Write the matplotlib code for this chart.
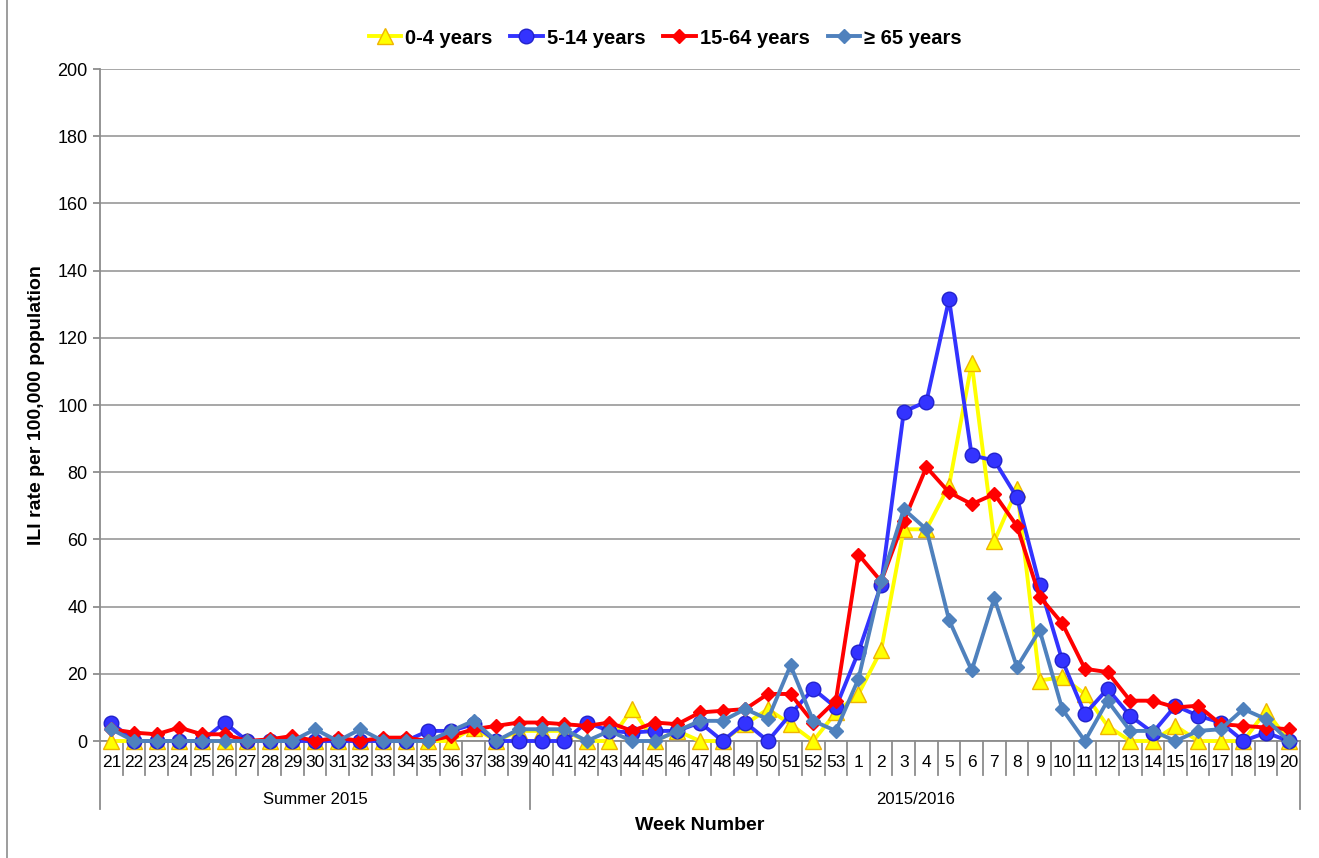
import matplotlib.pyplot as plt
from matplotlib.lines import Line2D
from matplotlib.transforms import blended_transform_factory

# week labels: summer season then the 2015/2016 season
weeks_summer = list(range(21, 40))
weeks_season = list(range(40, 54)) + list(range(1, 21))
group_names = ['Summer 2015', '2015/2016']

age_0_4 = [0, 0, 0, 0, 0, 0, 0, 0, 0, 0, 0, 0, 0, 0, 0, 0, 4, 0, 3,
           3, 3, 0, 0, 9.5, 0, 3, 0, 0, 5, 9.5, 5, 0, 8.5,
           14, 27, 63, 63, 76, 112.5, 59.5, 75, 18, 19, 14, 4.5,
           0, 0, 4.5, 0, 0, 0, 9, 0]
age_5_14 = [5.5, 0, 0, 0, 0, 5.5, 0, 0, 0, 0, 0, 0, 0, 0, 3, 3, 5, 0, 0,
            0, 0, 5.5, 3, 2.5, 3, 3, 5.5, 0, 5.5, 0, 8, 15.5, 10,
            26.5, 46.5, 98, 101, 131.5, 85, 83.5, 72.5, 46.5, 24, 8, 15.5,
            7.5, 2.5, 10.5, 7.5, 5.5, 0, 2.5, 0]
age_15_64 = [3.5, 2.5, 2, 4, 2, 2, 0, 0.5, 1.5, 0, 1, 0, 1, 1, 0, 1.5, 3.5, 4.5, 5.5,
             5.5, 5, 4.5, 5.5, 3, 5.5, 5, 8.5, 9, 9.5, 14, 14, 5.5, 12,
             55.5, 47.5, 65.5, 81.5, 74, 70.5, 73.5, 64, 43, 35, 21.5, 20.5,
             12, 12, 10, 10.5, 5, 4.5, 4, 3.5]
age_65 = [3.5, 0, 0, 0, 0, 0, 0, 0, 0, 3.5, 0, 3.5, 0, 0, 0, 3, 6, 0, 3.5,
          3.5, 3.5, 0, 3, 0, 0, 3, 6, 6, 9.5, 6.5, 22.5, 6, 3,
          18.5, 47.5, 69, 63, 36, 21, 42.5, 22, 33, 9.5, 0, 12,
          3, 3, 0, 3, 3.5, 9.5, 6.5, 0]

series = [
    ('0-4 years', age_0_4, '#FFFF00', '^', '#FFFF00', '#F0B400', 11),
    ('5-14 years', age_5_14, '#3333FF', 'o', '#3333FF', '#2222CC', 10.5),
    ('15-64 years', age_15_64, '#FF0000', 'D', '#FF0000', '#FF0000', 7.5),
    ('\u2265 65 years', age_65, '#4F81BD', 'D', '#4F81BD', '#4F81BD', 7.5),
]

W, H = 1319, 858
fig = plt.figure(figsize=(W / 100, H / 100), dpi=100)
plt.rcParams['font.family'] = ['Liberation Sans', 'DejaVu Sans']
ax = fig.add_axes([100 / W, 1 - 741 / H, 1200 / W, 672 / H])

labels = [str(w) for w in weeks_summer + weeks_season]
x = list(range(len(labels)))

handles = []
for name, vals, col, mk, mfc, mec, ms in series:
    h, = ax.plot(x, vals, color=col, lw=2.8, marker=mk, ms=ms, mfc=mfc,
                 mec=mec, mew=1, label=name, clip_on=False, zorder=3)
    handles.append(h)

ax.set_xlim(-0.5, len(labels) - 0.5)
ax.set_ylim(0, 200)
ax.set_yticks(range(0, 201, 20))
ax.yaxis.grid(True, color='#A0A0A0', lw=1.3)
ax.set_axisbelow(True)
for s in ['top', 'right']:
    ax.spines[s].set_visible(False)
ax.spines['left'].set_color('#8C8C8C')
ax.spines['bottom'].set_color('#8C8C8C')
ax.spines['left'].set_linewidth(1.3)
ax.spines['bottom'].set_linewidth(1.3)
ax.tick_params(axis='y', colors='#8C8C8C', labelcolor='black', labelsize=13,
               length=5, width=1.3, pad=4)
ax.set_xticks(x)
ax.set_xticklabels(labels)
ax.tick_params(axis='x', length=0, labelsize=12.5, pad=10)

# category boxes under the axis
tr = blended_transform_factory(ax.transData, ax.transAxes)
n1 = len(weeks_summer)
bounds = [-0.5, n1 - 0.5, len(labels) - 0.5]
for i in range(len(labels) + 1):
    xb = i - 0.5
    y_end = -68 / 672 if xb in bounds else -34 / 672
    ax.plot([xb, xb], [0, y_end], color='#8C8C8C', lw=1.3, transform=tr,
            clip_on=False)
centers = [(bounds[0] + bounds[1]) / 2, (bounds[1] + bounds[2]) / 2]
for c, g in zip(centers, group_names):
    ax.text(c, -58 / 672, g, transform=tr, ha='center', va='center',
            fontsize=12)

ax.set_xlabel('Week Number', fontsize=14, fontweight='bold')
ax.xaxis.set_label_coords(0.5, -76 / 672)
ax.set_ylabel('ILI rate per 100,000 population', fontsize=14,
              fontweight='bold')
ax.yaxis.set_label_coords(-55 / 1200, 0.5)

fig.legend(handles=handles, loc='center', bbox_to_anchor=(665 / W, 1 - 38 / H),
           ncol=4, frameon=False, prop={'weight': 'bold', 'size': 14.5},
           handlelength=1.6, handletextpad=0.2, columnspacing=0.9,
           markerscale=1.0)

fig.add_artist(Line2D([7 / W, 7 / W], [0, 1], color='#8C8C8C', lw=1.2))

plt.savefig('out.png', dpi=100)
